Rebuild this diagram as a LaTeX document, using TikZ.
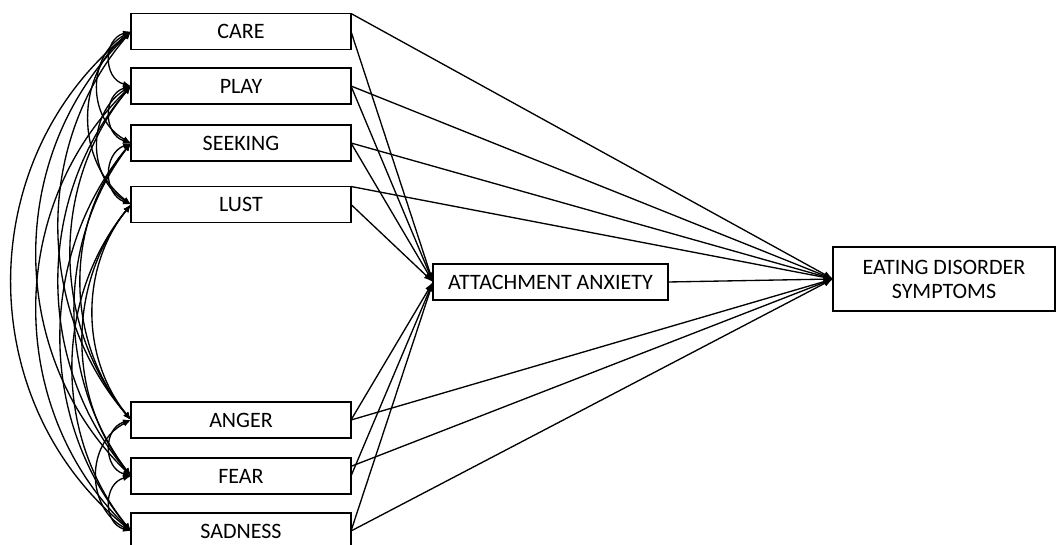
\documentclass[tikz,border=0pt]{standalone}
\usepackage{fontspec}
\setmainfont{Carlito}
\usetikzlibrary{arrows.meta}
\begin{document}
\begin{tikzpicture}[x=0.75pt,y=-0.75pt,
  box/.style={draw, line width=1.1pt, minimum width=165pt, minimum height=27pt,
    inner sep=0pt, outer sep=0pt, font=\fontsize{16.5}{18}\selectfont, align=center},
  regr/.style={line width=1pt, -{Latex[length=7pt,width=5pt]}},
  corr/.style={line width=1pt, {Latex[length=6pt,width=4.5pt]}-{Latex[length=6pt,width=4.5pt]}}]
\useasboundingbox (0,0) rectangle (1056,545);
\node[box] (care)  at (241,31.5) {CARE};
\node[box] (play)  at (241,86)   {PLAY};
\node[box] (seek)  at (241,143)  {SEEKING};
\node[box] (lust)  at (241,204.5){LUST};
\node[box] (anger) at (241,420)  {ANGER};
\node[box] (fear)  at (241,476)  {FEAR};
\node[box] (sad)   at (241,531)  {SADNESS};
\node[box, minimum width=176.25pt] (aa) at (550.5,282) {ATTACHMENT ANXIETY};
\node[box, minimum width=166.5pt, minimum height=48pt] (ed) at (944,279) {EATING DISORDER\\SYMPTOMS};
% paths to attachment anxiety
\foreach \n in {care,play,seek,lust,anger,fear,sad}
  \draw[regr] (\n.east) -- (aa.west);
% paths to eating disorder symptoms
\draw[regr] (care.north east) -- (ed.west);
\draw[regr] (play.east) -- (ed.west);
\draw[regr] (seek.east) -- (ed.west);
\draw[regr] (lust.north east) -- (ed.west);
\draw[regr] (anger.east) -- (ed.west);
\draw[regr] (fear.5) -- (ed.west);
\draw[regr] (sad.east) -- (ed.west);
\draw[regr] (aa.east) -- (ed.west);
% covariances
\foreach \a/\b/\d/\s in {care/play/54.5/21, care/seek/111.5/33, care/lust/173/42,
  care/anger/388.5/72, care/fear/444.5/94, care/sad/499.5/119,
  play/seek/57/21, play/lust/118.5/33, play/anger/334/60, play/fear/390/72, play/sad/445/94,
  seek/lust/61.5/21, seek/anger/277/50, seek/fear/333/56, seek/sad/388/70,
  lust/anger/215.5/38, lust/fear/271.5/48, lust/sad/326.5/58,
  anger/fear/56/21, anger/sad/111/34, fear/sad/55/21} {
  \pgfmathsetmacro\h{4*\s/3}
  \pgfmathsetmacro\v{\d/3-4*\s*(\s/\d)/3}
  \draw[corr] (\a.west) .. controls +(-\h,\v) and +(-\h,-\v) .. (\b.west);
}
\end{tikzpicture}
\end{document}
